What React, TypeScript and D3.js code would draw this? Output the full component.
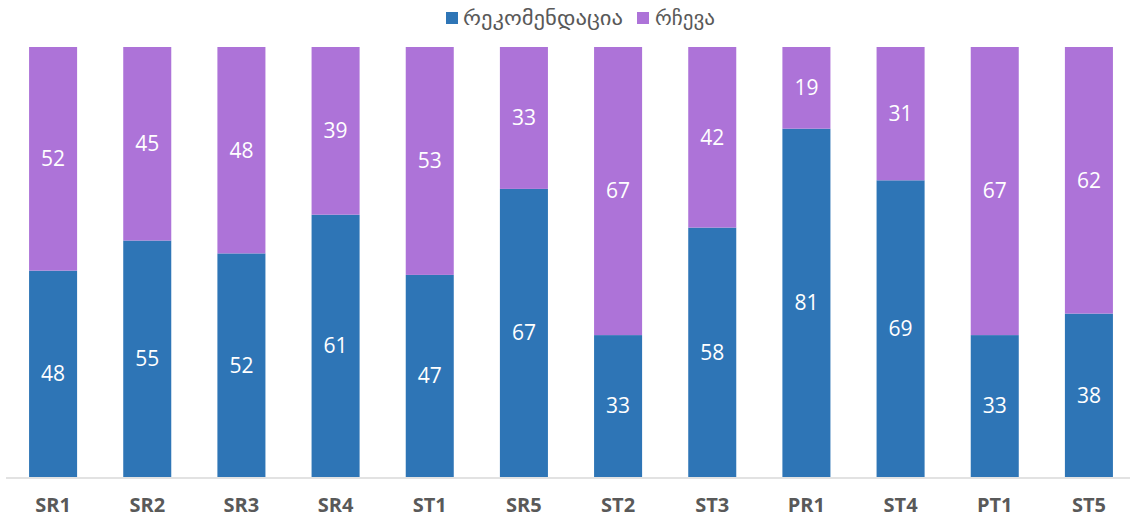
import React from 'react';
import * as d3 from 'd3';

const categories = ['SR1', 'SR2', 'SR3', 'SR4', 'ST1', 'SR5', 'ST2', 'ST3', 'PR1', 'ST4', 'PT1', 'ST5'];
const recommendation = [48, 55, 52, 61, 47, 67, 33, 58, 81, 69, 33, 38];
const advice = [52, 45, 48, 39, 53, 33, 67, 42, 19, 31, 67, 62];
const seriesNames = ['რეკომენდაცია', 'რჩევა'];
const colors = ['#2E75B6', '#AD73D8'];

const width = 1130;
const height = 522;
const top = 47;
const bottom = 477;

const App = () => {
  const x = d3.scaleBand<string>().domain(categories).range([6, 1136]).paddingInner(0.49).paddingOuter(0.245);
  const y = d3.scaleLinear().domain([0, 100]).range([bottom, top]);

  const rows = categories.map((c, i) => ({ cat: c, rec: recommendation[i], adv: advice[i] }));
  const stack = d3.stack<any>().keys(['rec', 'adv'])(rows);

  const font = '"Open Sans", "DejaVu Sans", sans-serif';

  return (
    <svg width={width} height={height} style={{ position: 'absolute', left: 0, top: 0 }}>
      {stack.map((layer, li) => (
        <g key={li}>
          {layer.map((d, i) => {
            const x0 = x(categories[i])!;
            const y0 = y(d[1]);
            const h = y(d[0]) - y(d[1]);
            return (
              <g key={i}>
                <rect x={x0} y={y0} width={x.bandwidth()} height={h} fill={colors[li]} />
                <text
                  x={x0 + x.bandwidth() / 2}
                  y={y0 + h / 2}
                  dy="0.35em"
                  textAnchor="middle"
                  fill="#FFFFFF"
                  fontSize={21}
                  fontFamily={font}
                >
                  {d[1] - d[0]}
                </text>
              </g>
            );
          })}
        </g>
      ))}
      <line x1={6} x2={1130} y1={bottom + 1} y2={bottom + 1} stroke="#D9D9D9" strokeWidth={1.5} />
      {categories.map((c) => (
        <text
          key={c}
          x={x(c)! + x.bandwidth() / 2}
          y={505}
          dy="0.35em"
          textAnchor="middle"
          fill="#595959"
          fontSize={20}
          fontWeight="bold"
          fontFamily={font}
        >
          {c}
        </text>
      ))}
      <g>
        <rect x={446} y={12} width={12} height={12} fill={colors[0]} />
        <text x={463} y={18} dy="0.35em" fill="#595959" fontSize={20} fontFamily={font}
          textLength={160} lengthAdjust="spacingAndGlyphs">
          {seriesNames[0]}
        </text>
        <rect x={637} y={12} width={12} height={12} fill={colors[1]} />
        <text x={655} y={18} dy="0.35em" fill="#595959" fontSize={20} fontFamily={font}
          textLength={60} lengthAdjust="spacingAndGlyphs">
          {seriesNames[1]}
        </text>
      </g>
    </svg>
  );
};

export default App;
